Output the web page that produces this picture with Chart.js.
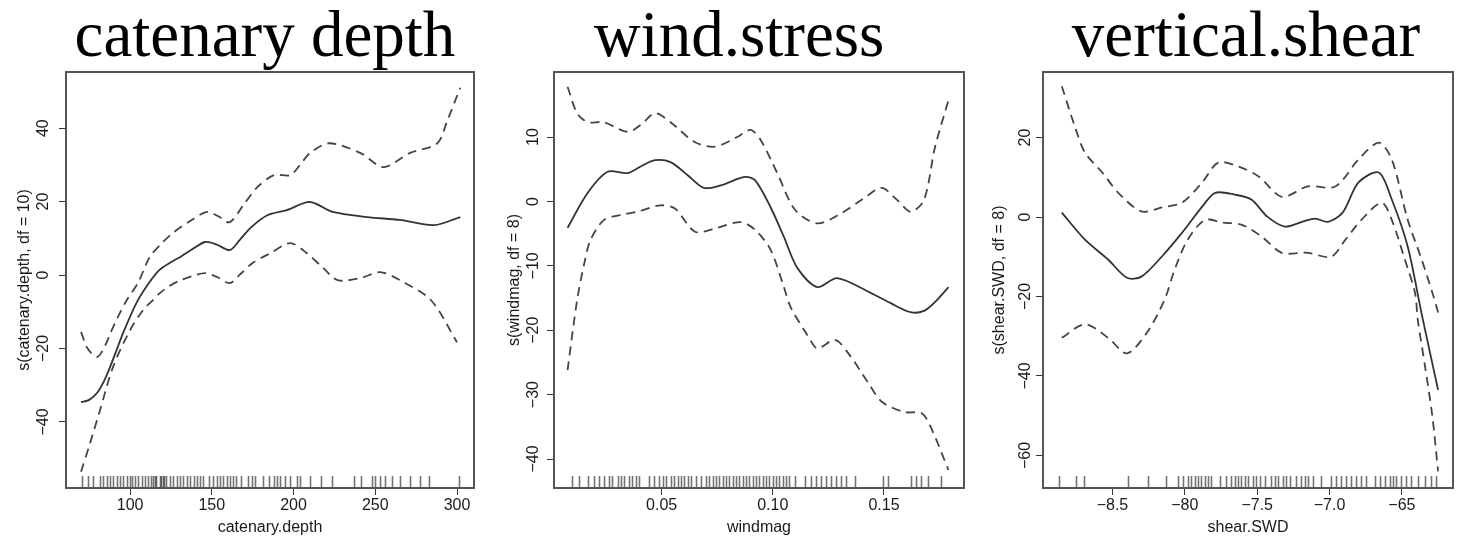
<!DOCTYPE html>
<html>
<head>
<meta charset="utf-8">
<script src="https://cdn.jsdelivr.net/npm/chart.js@4"></script>
<style>
  body { margin: 0; background: #fff; }
  #wrap { position: relative; width: 1459px; height: 539px; overflow: hidden; background: #fff; }
  #wrap canvas { position: absolute; top: 0; }
  .ttl { position: absolute; top: 2px; width: 480px; text-align: center; white-space: nowrap;
         font-family: "Liberation Serif", "Times New Roman", serif; font-size: 65px; line-height: 1; color: #000; }
</style>
</head>
<body>
<div id="wrap">
  <div class="ttl" style="left:25px">catenary depth</div>
  <div class="ttl" style="left:499px">wind.stress</div>
  <div class="ttl" style="left:1006px">vertical.shear</div>
  <canvas id="c1" width="490" height="539" style="left:0px"></canvas>
  <canvas id="c2" width="485" height="539" style="left:490px"></canvas>
  <canvas id="c3" width="484" height="539" style="left:975px"></canvas>
</div>
<script>
// --- catenary depth smooth + 2*se bands
const depthFitX = [70, 75, 80, 85, 90, 96, 104, 111, 118, 125, 131, 138, 146, 153, 161, 167, 174, 184, 196, 210, 224, 245, 265, 286, 302];
const depthFitY = [-34.6, -34, -32, -28, -22.5, -15.5, -7.5, -2.5, 1.4, 3.5, 5, 7, 9, 8.3, 6.8, 9.5, 13, 16.3, 17.7, 19.9, 17.2, 15.8, 15, 13.6, 15.8];
const depthUpX = [70, 74, 80, 85, 88, 93, 98, 105, 112, 119, 126, 136, 147, 154, 161, 170, 178, 188, 198, 204, 210, 222, 241, 255, 271, 288, 294, 302];
const depthUpY = [-15.5, -20, -22.3, -19, -15.8, -11, -6.8, -2, 4.9, 8.5, 11.4, 14.5, 17.2, 16, 14.4, 19.5, 24, 27.2, 27.2, 30, 33.2, 35.9, 33.2, 29.4, 33.2, 35.9, 42, 51];
const depthLoX = [70, 75.5, 81.6, 89.6, 100, 108, 114, 118, 124, 131, 138, 146, 153, 161, 168, 175, 186, 198, 208, 218, 227, 241, 253, 265, 284, 300];
const depthLoY = [-53.6, -45.8, -36.8, -25, -15, -9.5, -6.8, -5, -3, -1.4, -0.3, 0.5, -0.5, -2.2, 0.5, 3.3, 6, 8.7, 6, 2, -1.4, -0.8, 0.8, -1.4, -6.8, -18.3];
const depthRug = [70.4, 74.5, 77.5, 81.6, 83.7, 85.7, 87.8, 89.8, 91.9, 93.9, 95.9, 98, 100, 101, 103, 105, 107, 109, 111, 113, 114, 115, 116, 118, 119, 120, 121, 122,
  124.5, 126.5, 128.6, 130.6, 132.6, 134.7, 136.7, 138.8, 140.8, 142.9, 144.9, 148, 151, 153, 155, 157, 159, 161, 163, 165, 168, 172, 174.5, 176.5,
  181.6, 184.7, 187.8, 189.8, 191.9, 195, 198, 202, 204, 210, 217, 223.5, 236.7, 241, 248, 250, 253, 256, 260, 265, 271.5, 277.6, 282.7, 301];
const depthTicks = [100, 150, 200, 250, 300];
const depthTickLabels = ["100", "150", "200", "250", "300"];
const depthYTicks = [-40, -20, 0, 20, 40];
const depthYTickLabels = ["\u221240", "\u221220", "0", "20", "40"];

// --- wind stress
const windFitX = [0.0077, 0.0167, 0.0257, 0.0347, 0.041, 0.047, 0.054, 0.062, 0.069, 0.0766, 0.0874, 0.092, 0.099, 0.105, 0.111, 0.120, 0.129, 0.144, 0.153, 0.162, 0.168, 0.173, 0.179];
const windFitY = [-4.1, 1.3, 4.6, 4.4, 5.5, 6.4, 6.1, 4, 2.1, 2.5, 3.8, 3.3, -0.9, -5.5, -10.3, -13.3, -11.9, -14.2, -15.8, -17.2, -17, -15.6, -13.3];
const windUpX = [0.0077, 0.012, 0.0167, 0.024, 0.0347, 0.041, 0.047, 0.054, 0.065, 0.074, 0.084, 0.090, 0.0946, 0.102, 0.110, 0.120, 0.131, 0.141, 0.149, 0.156, 0.162, 0.168, 0.173, 0.179];
const windUpY = [17.8, 13.7, 12.3, 12.3, 10.8, 12, 13.7, 12.3, 9.2, 8.5, 10, 11.1, 9.5, 4.4, -1.3, -3.4, -1.8, 0.5, 2.1, 0.2, -1.6, 0.2, 8.5, 15.7];
const windLoX = [0.0077, 0.012, 0.0153, 0.018, 0.024, 0.0315, 0.039, 0.0496, 0.056, 0.065, 0.074, 0.0856, 0.092, 0.099, 0.105, 0.108, 0.116, 0.120, 0.128, 0.134, 0.143, 0.149, 0.159, 0.167, 0.171, 0.179];
const windLoY = [-26.2, -15.3, -9.5, -6, -2.9, -2.1, -1.6, -0.6, -1.1, -4.7, -4.2, -3.2, -4.4, -7.5, -13.3, -16.4, -21, -22.8, -21.5, -23.6, -28.2, -31.1, -32.7, -32.9, -35, -41.7];
const windRug = [0.0099, 0.0129, 0.0167, 0.0197, 0.0219, 0.0242, 0.0264, 0.0279, 0.0302, 0.0317, 0.0332, 0.0354, 0.0369, 0.0384, 0.0399, 0.0445,
  0.0467, 0.049, 0.0505, 0.0519, 0.0542, 0.0557, 0.0572, 0.0587, 0.0602, 0.0617, 0.0632, 0.0655, 0.0677, 0.07, 0.0715, 0.073, 0.0745, 0.076,
  0.0775, 0.079, 0.0805, 0.082, 0.0835, 0.085, 0.0865, 0.088, 0.0895, 0.091, 0.0925, 0.094, 0.0955, 0.097, 0.0985, 0.1, 0.1015, 0.103, 0.1045,
  0.106, 0.1075, 0.1098, 0.1143, 0.1173, 0.1195, 0.1218, 0.124, 0.1263, 0.1285, 0.1308, 0.133, 0.1368, 0.1495, 0.1518, 0.1623, 0.1645, 0.1668, 0.1698, 0.1758];
const windTicks = [0.05, 0.10, 0.15];
const windTickLabels = ["0.05", "0.10", "0.15"];
const windYTicks = [-40, -30, -20, -10, 0, 10];
const windYTickLabels = ["\u221240", "\u221230", "\u221220", "\u221210", "0", "10"];

// --- vertical shear
const shearFitX = [-8.85, -8.69, -8.53, -8.40, -8.30, -8.16, -8.02, -7.88, -7.79, -7.65, -7.54, -7.43, -7.31, -7.19, -7.10, -7.01, -6.91, -6.80, -6.66, -6.57, -6.46, -6.36, -6.25];
const shearFitY = [1.1, -5.7, -10.7, -15.3, -15, -10, -4, 2.6, 6.1, 5.6, 4.4, 0.1, -2.4, -1.2, -0.4, -1.2, 1.1, 8.7, 11.2, 4.4, -7.4, -25, -43.5];
const shearUpX = [-8.85, -8.76, -8.69, -8.57, -8.46, -8.30, -8.16, -8.02, -7.88, -7.77, -7.63, -7.49, -7.33, -7.15, -6.96, -6.80, -6.66, -6.57, -6.46, -6.37, -6.29, -6.25];
const shearUpY = [32.9, 22.8, 16.2, 11.2, 6.1, 1.4, 2.4, 3.6, 8.7, 13.7, 12.7, 10.2, 5.1, 7.7, 7.7, 14.5, 18.7, 14.5, -0.7, -10, -19, -24];
const shearLoX = [-8.85, -8.69, -8.53, -8.40, -8.26, -8.14, -8.07, -7.98, -7.86, -7.74, -7.61, -7.47, -7.33, -7.15, -6.99, -6.89, -6.78, -6.64, -6.57, -6.48, -6.41, -6.39, -6.34, -6.29, -6.25];
const shearLoY = [-30.4, -27, -30.4, -34.3, -29, -20.8, -13.2, -5.7, -0.7, -1.4, -1.9, -4.9, -9, -9, -10, -5.7, -0.7, 3.6, -0.7, -10.7, -19, -26, -37.6, -50, -64];
const shearRug = [-8.867, -8.752, -8.694, -8.394, -8.256, -8.129, -8.048, -8.014, -7.979, -7.956, -7.933, -7.91, -7.887, -7.864, -7.841, -7.818,
  -7.76, -7.714, -7.68, -7.656, -7.633, -7.611, -7.587, -7.564, -7.53, -7.507, -7.484, -7.449, -7.403, -7.38, -7.357, -7.322, -7.299, -7.276,
  -7.23, -7.196, -7.172, -7.149, -7.115, -7.057, -6.988, -6.954, -6.919, -6.884, -6.85, -6.815, -6.781, -6.746, -6.688, -6.653, -6.619, -6.584,
  -6.561, -6.539, -6.504, -6.47, -6.435, -6.389, -6.342, -6.297, -6.262];
const shearTicks = [-8.5, -8.0, -7.5, -7.0, -6.5];
const shearTickLabels = ["\u22128.5", "\u221280", "\u22127.5", "\u22127.0", "\u221265"];
const shearYTicks = [-60, -40, -20, 0, 20];
const shearYTickLabels = ["\u221260", "\u221240", "\u221220", "0", "20"];

const sansFont = { family: "'Liberation Sans', Arial, sans-serif", size: 16 };
const ink = '#1a1a1a';

function pts(xs, ys) {
  return xs.map((x, i) => ({ x: x, y: ys[i] }));
}

// frame round the plot region and rug marks along its bottom edge
const framePlugin = {
  id: 'frameRug',
  afterDatasetsDraw(chart, args, opts) {
    const { ctx, chartArea, scales } = chart;
    ctx.save();
    ctx.lineWidth = 1.6;
    ctx.strokeStyle = 'rgba(0,0,0,0.55)';
    opts.values.forEach(v => {
      const px = Math.round(scales.x.getPixelForValue(v)) + 0.5;
      ctx.beginPath();
      ctx.moveTo(px, chartArea.bottom);
      ctx.lineTo(px, chartArea.bottom - 12);
      ctx.stroke();
    });
    ctx.strokeStyle = '#555';
    ctx.lineWidth = 2;
    ctx.strokeRect(chartArea.left, chartArea.top, chartArea.right - chartArea.left, chartArea.bottom - chartArea.top);
    ctx.restore();
  }
};

function panel(id, p) {
  const dashed = { borderColor: '#444', borderWidth: 1.8, borderDash: [9, 6] };
  new Chart(document.getElementById(id), {
    type: 'line',
    data: {
      datasets: [
        { data: pts(p.fitX, p.fitY), borderColor: '#333', borderWidth: 1.8 },
        Object.assign({ data: pts(p.upX, p.upY) }, dashed),
        Object.assign({ data: pts(p.loX, p.loY) }, dashed)
      ]
    },
    options: {
      responsive: false,
      animation: false,
      elements: {
        point: { radius: 0 },
        line: { tension: 0.3, fill: false }
      },
      layout: { padding: { top: 72, right: p.padRight, left: 0, bottom: 0 } },
      plugins: {
        legend: { display: false },
        tooltip: { enabled: false },
        frameRug: { values: p.rug }
      },
      scales: {
        x: {
          type: 'linear',
          min: p.xRange[0],
          max: p.xRange[1],
          afterBuildTicks: s => { s.ticks = p.xTicks.map(v => ({ value: v })); },
          afterFit: s => { s.height = 51; },
          ticks: {
            autoSkip: false, maxRotation: 0, padding: 1,
            font: sansFont, color: ink,
            callback: v => p.xTickLabels[p.xTicks.indexOf(v)]
          },
          grid: { drawOnChartArea: false, drawTicks: true, tickLength: 7, color: '#333' },
          border: { display: false },
          title: { display: true, text: p.xTitle, font: sansFont, color: ink, padding: { top: 0, bottom: 2 } }
        },
        y: {
          type: 'linear',
          min: p.yRange[0],
          max: p.yRange[1],
          afterBuildTicks: s => { s.ticks = p.yTicks.map(v => ({ value: v })); },
          afterFit: s => { s.width = p.left; },
          ticks: {
            autoSkip: false, minRotation: 90, maxRotation: 90, crossAlign: 'center', padding: p.yPad,
            font: sansFont, color: ink,
            callback: v => p.yTickLabels[p.yTicks.indexOf(v)]
          },
          grid: { drawOnChartArea: false, drawTicks: true, tickLength: 7, color: '#333' },
          border: { display: false },
          title: { display: true, text: p.yTitle, font: sansFont, color: ink, padding: { top: 15, bottom: 0 } }
        }
      }
    },
    plugins: [framePlugin]
  });
}

panel('c1', {
  fitX: depthFitX, fitY: depthFitY, upX: depthUpX, upY: depthUpY, loX: depthLoX, loY: depthLoY,
  rug: depthRug, xTicks: depthTicks, xTickLabels: depthTickLabels, yTicks: depthYTicks, yTickLabels: depthYTickLabels,
  xRange: [60.8, 310.4], yRange: [-58, 55.3],
  xTitle: 'catenary.depth', yTitle: 's(catenary.depth, df = 10)',
  left: 66, padRight: 16, yPad: 2
});
panel('c2', {
  fitX: windFitX, fitY: windFitY, upX: windUpX, upY: windUpY, loX: windLoX, loY: windLoY,
  rug: windRug, xTicks: windTicks, xTickLabels: windTickLabels, yTicks: windYTicks, yTickLabels: windYTickLabels,
  xRange: [0.0016, 0.186], yRange: [-44.5, 20.1],
  xTitle: 'windmag', yTitle: 's(windmag, df = 8)',
  left: 64, padRight: 11, yPad: 0
});
panel('c3', {
  fitX: shearFitX, fitY: shearFitY, upX: shearUpX, upY: shearUpY, loX: shearLoX, loY: shearLoY,
  rug: shearRug, xTicks: shearTicks, xTickLabels: shearTickLabels, yTicks: shearYTicks, yTickLabels: shearYTickLabels,
  xRange: [-8.98, -6.147], yRange: [-68.2, 36.5],
  xTitle: 'shear.SWD', yTitle: 's(shear.SWD, df = 8)',
  left: 68, padRight: 6, yPad: -3
});
</script>
</body>
</html>
